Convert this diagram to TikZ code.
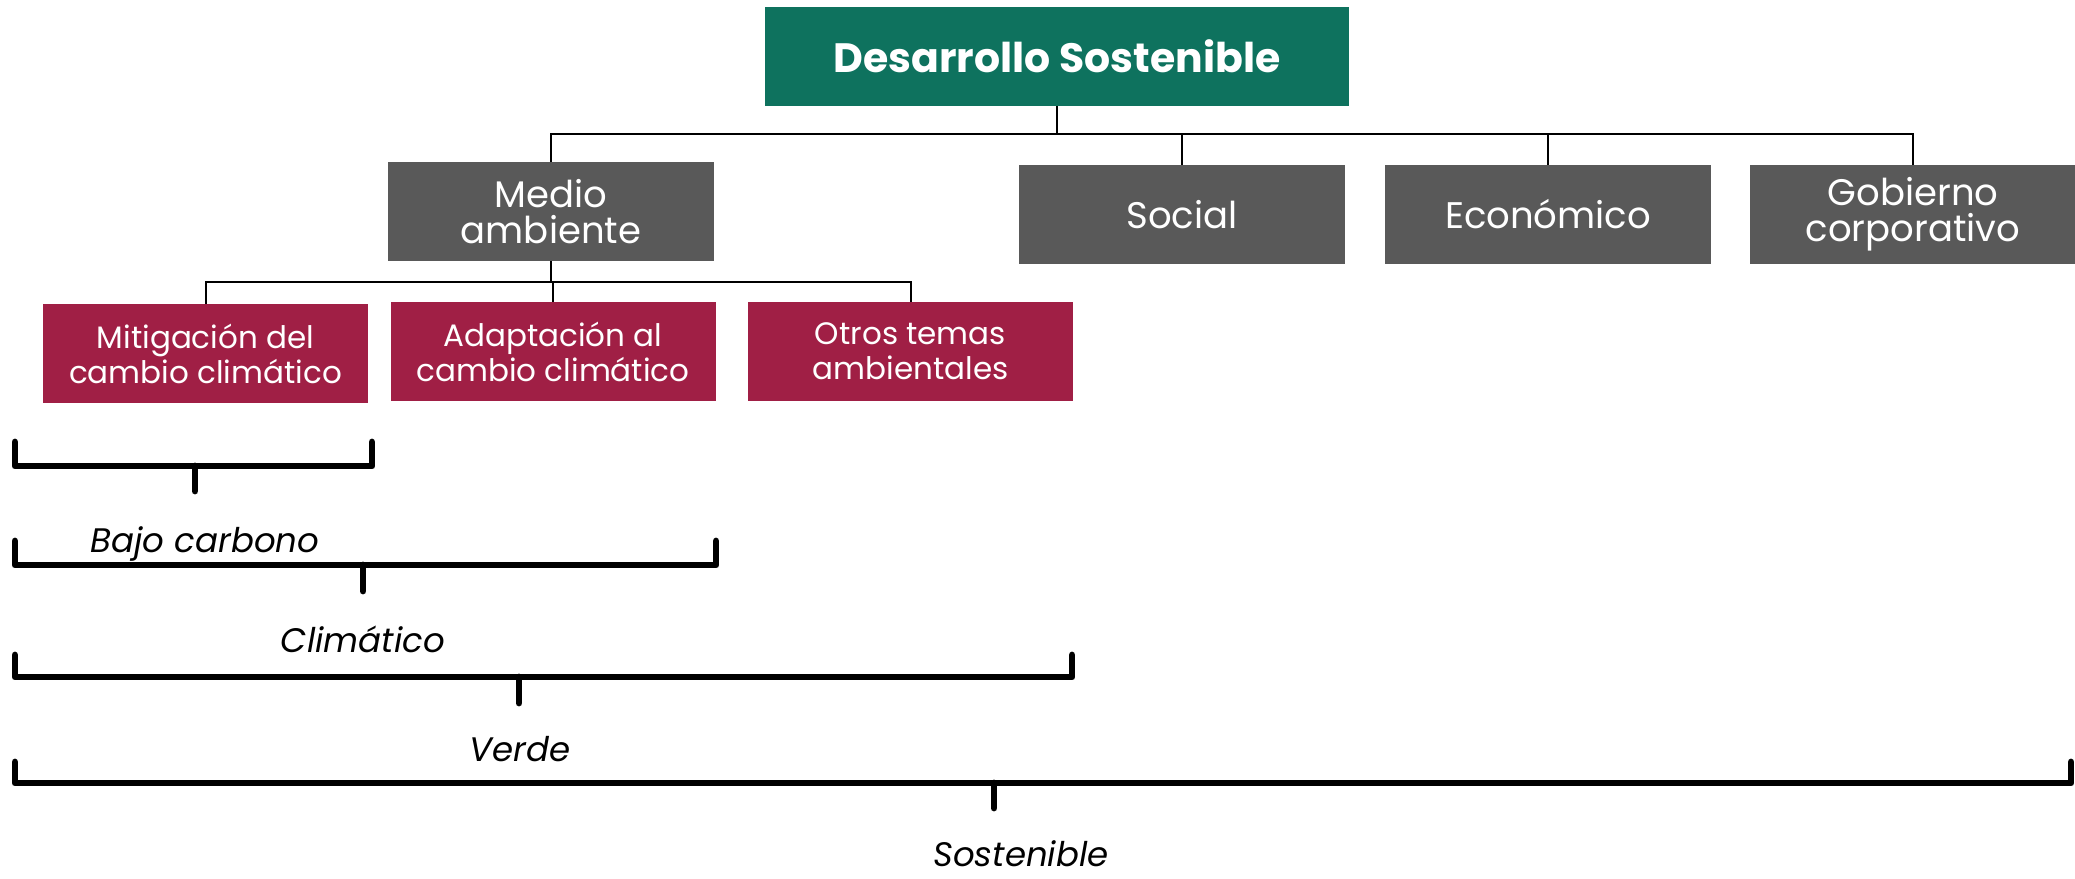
\documentclass[tikz,border=0pt]{standalone}
\usepackage{fontspec}
\setmainfont{Poppins}
\definecolor{dsgreen}{HTML}{0E725E}
\definecolor{dsgray}{HTML}{595959}
\definecolor{dsred}{HTML}{A01F45}
\begin{document}
\begin{tikzpicture}[x=0.5pt,y=-0.5pt,
  box/.style={draw=none, inner sep=0pt, align=center, text=white},
  graybox/.style={box, fill=dsgray, minimum width=163pt, minimum height=49.5pt, font=\fontsize{18.5}{18}\selectfont},
  redbox/.style={box, fill=dsred, minimum width=162.5pt, minimum height=49.5pt, font=\fontsize{15.5}{17.5}\selectfont},
  conn/.style={line width=1pt, draw=black},
  brace/.style={line width=3.4pt, line cap=round, line join=round, draw=black},
  blabel/.style={inner sep=0pt, anchor=base, font=\fontsize{17}{20}\selectfont\itshape}]
\useasboundingbox (0,0) rectangle (2075,878);
% nodes
\node[box, fill=dsgreen, minimum width=292pt, minimum height=49.5pt, font=\fontsize{20.5}{24}\selectfont\bfseries] (ds) at (1057,56.5) {Desarrollo Sostenible};
\node[graybox] (ma) at (551,211.5) {Medio\\ambiente};
\node[graybox] (so) at (1182,214.5) {Social};
\node[graybox] (ec) at (1548,214.5) {Económico};
\node[graybox] (go) at (1913,214.5) {Gobierno\\corporativo};
\node[redbox] (mi) at (205.5,353.5) {Mitigación del\\cambio climático};
\node[redbox] (ad) at (553,351.5) {Adaptación al\\cambio climático};
\node[redbox] (ot) at (910.5,351.5) {Otros temas\\ambientales};
% connectors
\coordinate (bus1) at (1057,134);
\coordinate (bus2) at (551,282);
\draw[conn] (ds.south) -- (bus1) -| (ma.north);
\foreach \n in {so,ec,go} \draw[conn] (bus1) -| (\n.north);
\draw[conn] (ma.south) -- (bus2);
\foreach \n in {mi,ad,ot} \draw[conn] (bus2) -| (\n.north);
% brackets
\draw[brace] (15,442) -- (15,466) -- (372,466) -- (372,442);
\draw[brace] (195,466) -- (195,491);
\draw[brace] (15,541) -- (15,565) -- (716,565) -- (716,541);
\draw[brace] (363,565) -- (363,591);
\draw[brace] (15,655) -- (15,677) -- (1072,677) -- (1072,655);
\draw[brace] (519,677) -- (519,703);
\draw[brace] (15,762) -- (15,783) -- (2071,783) -- (2071,762);
\draw[brace] (994,783) -- (994,808);
% labels
\node[blabel] (l1) at (205,552) {Bajo carbono};
\node[blabel] (l2) at (363,652) {Climático};
\node[blabel] (l3) at (520,761) {Verde};
\node[blabel] (l4) at (1021,866) {Sostenible};
\end{tikzpicture}
\end{document}
